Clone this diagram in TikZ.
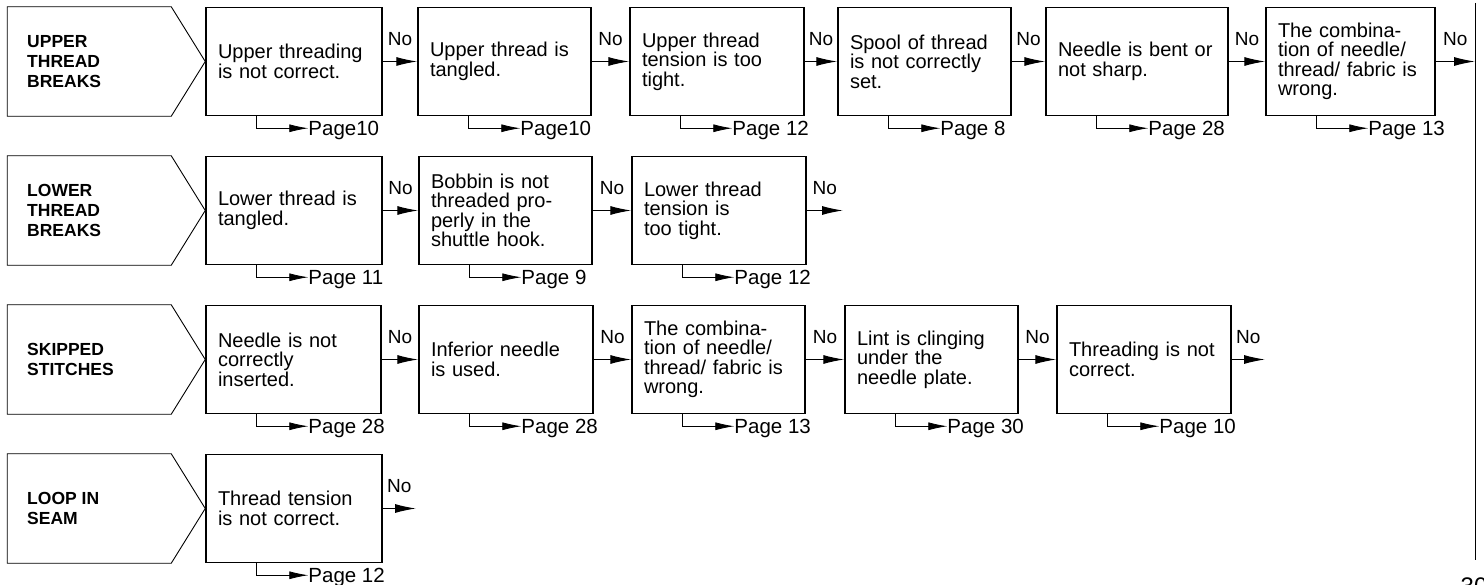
\documentclass[tikz,border=0pt]{standalone}
\usepackage{fontspec}
\setmainfont{Liberation Sans}
\usetikzlibrary{arrows.meta}

\begin{document}
\begin{tikzpicture}[x=1pt,y=-1pt,
    box/.style={draw, line width=1.5pt, minimum height=108pt, inner xsep=12pt, inner ysep=0pt,
        text width=#1pt, align=left, font=\fontsize{20}{19.5}\selectfont},
    title/.style={draw, line width=0.9pt},
    titletext/.style={anchor=west, align=left, inner sep=0pt, font=\fontsize{17.5}{20}\selectfont\bfseries},
    noarrow/.style={line width=1.1pt, -{Latex[length=21pt,width=9pt]}},
    nolabel/.style={midway, above=15pt, inner sep=0pt, font=\fontsize{19}{19}\selectfont},
    link/.style={line width=0.8pt, -{Latex[length=19pt,width=8pt]}},
    page/.style={anchor=base west, inner sep=0pt, font=\fontsize{20.5}{20}\selectfont}]
    \useasboundingbox (0,0) rectangle (1484,585);

    % Upper thread breaks
    \node[box=152] (up1) at (294,61.5) {Upper threading\\is not correct.};
    \node[box=149] (up2) at (504.5,61.5) {Upper thread is\\tangled.};
    \node[box=150] (up3) at (717,61.5) {Upper thread\\tension is too\\tight.};
    \node[box=149] (up4) at (924.5,61.5) {Spool of thread\\is not correctly\\set.};
    \node[box=158] (up5) at (1137,61.5) {Needle is bent or\\not sharp.};
    \node[box=145] (up6) at (1350.5,61.5) {The combina-\\tion of needle/\\thread/ fabric is\\wrong.};
    \coordinate (up7) at (1475,61.5);
    \node[titletext] (upt) at (27,61.5) {UPPER\\THREAD\\BREAKS};
    \draw[title] (up1.west) -- ([xshift=-34pt]up1.north west) -- ([xshift=-198pt]up1.north west)
        -- ([xshift=-198pt]up1.south west) -- ([xshift=-34pt]up1.south west) -- cycle;
    \draw[noarrow] (up1) -- (up2) node[nolabel] {No};
    \draw[noarrow] (up2) -- (up3) node[nolabel] {No};
    \draw[noarrow] (up3) -- (up4) node[nolabel] {No};
    \draw[noarrow] (up4) -- (up5) node[nolabel] {No};
    \draw[noarrow] (up5) -- (up6) node[nolabel] {No};
    \draw[noarrow] (up6) -- (up7) node[nolabel] {No};
    \node[page] (up1pg) at ([shift={(103pt,-19pt)}]up1.south west) {Page10};
    \node[page] (up2pg) at ([shift={(103pt,-19pt)}]up2.south west) {Page10};
    \node[page] (up3pg) at ([shift={(103pt,-19pt)}]up3.south west) {Page 12};
    \node[page] (up4pg) at ([shift={(103pt,-19pt)}]up4.south west) {Page 8};
    \node[page] (up5pg) at ([shift={(103pt,-19pt)}]up5.south west) {Page 28};
    \node[page] (up6pg) at ([shift={(103pt,-19pt)}]up6.south west) {Page 13};
    \draw[link] ([xshift=51pt]up1.south west) |- ([yshift=7pt]up1pg.base west);
    \draw[link] ([xshift=51pt]up2.south west) |- ([yshift=7pt]up2pg.base west);
    \draw[link] ([xshift=51pt]up3.south west) |- ([yshift=7pt]up3pg.base west);
    \draw[link] ([xshift=51pt]up4.south west) |- ([yshift=7pt]up4pg.base west);
    \draw[link] ([xshift=51pt]up5.south west) |- ([yshift=7pt]up5pg.base west);
    \draw[link] ([xshift=51pt]up6.south west) |- ([yshift=7pt]up6pg.base west);

    % Lower thread breaks
    \node[box=152] (lo1) at (294,210.5) {Lower thread is\\tangled.};
    \node[box=149] (lo2) at (505.5,210.5) {Bobbin is not\\threaded pro-\\perly in the\\shuttle hook.};
    \node[box=150] (lo3) at (719,210.5) {Lower thread\\tension is\\too tight.};
    \coordinate (lo4) at (843,210.5);
    \node[titletext] (lot) at (27,210.5) {LOWER\\THREAD\\BREAKS};
    \draw[title] (lo1.west) -- ([xshift=-34pt]lo1.north west) -- ([xshift=-198pt]lo1.north west)
        -- ([xshift=-198pt]lo1.south west) -- ([xshift=-34pt]lo1.south west) -- cycle;
    \draw[noarrow] (lo1) -- (lo2) node[nolabel] {No};
    \draw[noarrow] (lo2) -- (lo3) node[nolabel] {No};
    \draw[noarrow] (lo3) -- (lo4) node[nolabel] {No};
    \node[page] (lo1pg) at ([shift={(103pt,-19pt)}]lo1.south west) {Page 11};
    \node[page] (lo2pg) at ([shift={(103pt,-19pt)}]lo2.south west) {Page 9};
    \node[page] (lo3pg) at ([shift={(103pt,-19pt)}]lo3.south west) {Page 12};
    \draw[link] ([xshift=51pt]lo1.south west) |- ([yshift=7pt]lo1pg.base west);
    \draw[link] ([xshift=51pt]lo2.south west) |- ([yshift=7pt]lo2pg.base west);
    \draw[link] ([xshift=51pt]lo3.south west) |- ([yshift=7pt]lo3pg.base west);

    % Skipped stitches
    \node[box=151] (sk1) at (293.5,359.5) {Needle is not\\correctly\\inserted.};
    \node[box=150] (sk2) at (506,359.5) {Inferior needle\\is used.};
    \node[box=149] (sk3) at (718.5,359.5) {The combina-\\tion of needle/\\thread/ fabric is\\wrong.};
    \node[box=149] (sk4) at (931.5,359.5) {Lint is clinging\\under the\\needle plate.};
    \node[box=150] (sk5) at (1144,359.5) {Threading is not\\correct.};
    \coordinate (sk6) at (1265,359.5);
    \node[titletext] (skt) at (27,359.5) {SKIPPED\\STITCHES};
    \draw[title] (sk1.west) -- ([xshift=-34pt]sk1.north west) -- ([xshift=-198pt]sk1.north west)
        -- ([xshift=-198pt]sk1.south west) -- ([xshift=-34pt]sk1.south west) -- cycle;
    \draw[noarrow] (sk1) -- (sk2) node[nolabel] {No};
    \draw[noarrow] (sk2) -- (sk3) node[nolabel] {No};
    \draw[noarrow] (sk3) -- (sk4) node[nolabel] {No};
    \draw[noarrow] (sk4) -- (sk5) node[nolabel] {No};
    \draw[noarrow] (sk5) -- (sk6) node[nolabel] {No};
    \node[page] (sk1pg) at ([shift={(103pt,-19pt)}]sk1.south west) {Page 28};
    \node[page] (sk2pg) at ([shift={(103pt,-19pt)}]sk2.south west) {Page 28};
    \node[page] (sk3pg) at ([shift={(103pt,-19pt)}]sk3.south west) {Page 13};
    \node[page] (sk4pg) at ([shift={(103pt,-19pt)}]sk4.south west) {Page 30};
    \node[page] (sk5pg) at ([shift={(103pt,-19pt)}]sk5.south west) {Page 10};
    \draw[link] ([xshift=51pt]sk1.south west) |- ([yshift=7pt]sk1pg.base west);
    \draw[link] ([xshift=51pt]sk2.south west) |- ([yshift=7pt]sk2pg.base west);
    \draw[link] ([xshift=51pt]sk3.south west) |- ([yshift=7pt]sk3pg.base west);
    \draw[link] ([xshift=51pt]sk4.south west) |- ([yshift=7pt]sk4pg.base west);
    \draw[link] ([xshift=51pt]sk5.south west) |- ([yshift=7pt]sk5pg.base west);

    % Loop in seam
    \node[box=152] (lp1) at (294,508.5) {Thread tension\\is not correct.};
    \coordinate (lp2) at (416,508.5);
    \node[titletext] (lpt) at (27,508.5) {LOOP IN\\SEAM};
    \draw[title] (lp1.west) -- ([xshift=-34pt]lp1.north west) -- ([xshift=-198pt]lp1.north west)
        -- ([xshift=-198pt]lp1.south west) -- ([xshift=-34pt]lp1.south west) -- cycle;
    \draw[noarrow] (lp1) -- (lp2) node[nolabel] {No};
    \node[page] (lp1pg) at ([shift={(103pt,-19pt)}]lp1.south west) {Page 12};
    \draw[link] ([xshift=51pt]lp1.south west) |- ([yshift=7pt]lp1pg.base west);

    % page edge
    \draw[line width=0.8pt] (1475,3) -- (1475,560);
    \node[anchor=north, inner sep=0pt, font=\fontsize{24}{24}\selectfont] (pgnum) at (1474,578) {30};
\end{tikzpicture}
\end{document}
